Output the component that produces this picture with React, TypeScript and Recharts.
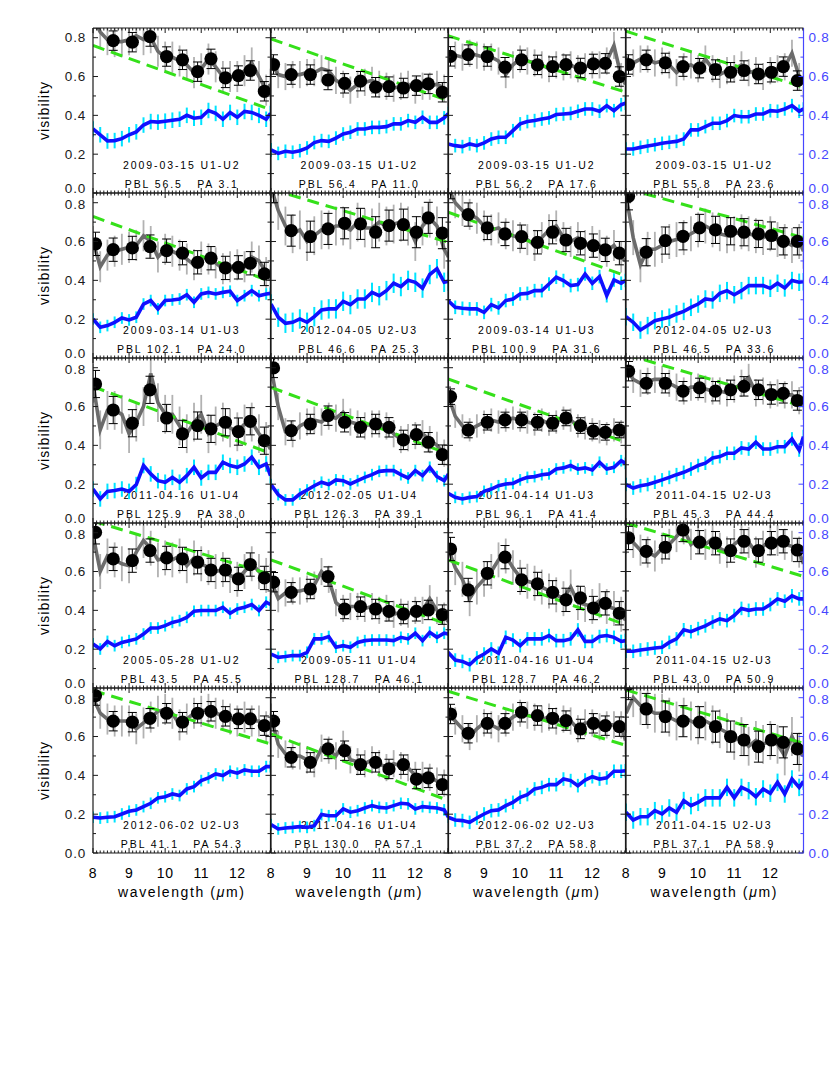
import React from 'react';
import { ComposedChart, Line, Scatter, XAxis, YAxis, ErrorBar } from 'recharts';

// ---------- data ----------
const WAVE_FINE = [8.0, 8.2, 8.4, 8.6, 8.8, 9.0, 9.2, 9.4, 9.6, 9.8, 10.0, 10.2, 10.4, 10.6, 10.8, 11.0, 11.2, 11.4, 11.6, 11.8, 12.0, 12.2, 12.4, 12.6, 12.8, 12.92];
const WAVE_DOT = [8.07, 8.56, 9.09, 9.58, 10.04, 10.48, 10.9, 11.27, 11.67, 12.03, 12.36, 12.75];
const X_DOMAIN = [8, 12.92];
const Y_DOMAIN = [0, 0.85];
const X_TICKS = [8, 8.1, 8.2, 8.3, 8.4, 8.5, 8.6, 8.7, 8.8, 8.9, 9, 9.1, 9.2, 9.3, 9.4, 9.5, 9.6, 9.7, 9.8, 9.9, 10, 10.1, 10.2, 10.3, 10.4, 10.5, 10.6, 10.7, 10.8, 10.9, 11, 11.1, 11.2, 11.3, 11.4, 11.5, 11.6, 11.7, 11.8, 11.9, 12, 12.1, 12.2, 12.3, 12.4, 12.5, 12.6, 12.7, 12.8, 12.9];
const X_LABELS = ['8', '9', '10', '11', '12'];
const Y_TICKS = [0, 0.1, 0.2, 0.3, 0.4, 0.5, 0.6, 0.7, 0.8];
const Y_LABELS = ['0.0', '0.2', '0.4', '0.6', '0.8'];

const DATES = [
  '2009-03-15 U1-U2', '2009-03-15 U1-U2', '2009-03-15 U1-U2', '2009-03-15 U1-U2',
  '2009-03-14 U1-U3', '2012-04-05 U2-U3', '2009-03-14 U1-U3', '2012-04-05 U2-U3',
  '2011-04-16 U1-U4', '2012-02-05 U1-U4', '2011-04-14 U1-U3', '2011-04-15 U2-U3',
  '2005-05-28 U1-U2', '2009-05-11 U1-U4', '2011-04-16 U1-U4', '2011-04-15 U2-U3',
  '2012-06-02 U2-U3', '2011-04-16 U1-U4', '2012-06-02 U2-U3', '2011-04-15 U2-U3',
];
const PBL = ['56.5', '56.4', '56.2', '55.8', '102.1', '46.6', '100.9', '46.5', '125.9', '126.3', '96.1', '45.3', '43.5', '128.7', '128.7', '43.0', '41.1', '130.0', '37.2', '37.1'];
const PA = ['3.1', '11.0', '17.6', '23.6', '24.0', '25.3', '31.6', '33.6', '38.0', '39.1', '41.4', '44.4', '45.5', '46.1', '46.2', '50.9', '54.3', '57.1', '58.8', '58.9'];

const DOT_V = [
  [0.9, 0.785, 0.777, 0.806, 0.703, 0.686, 0.625, 0.691, 0.593, 0.605, 0.631, 0.524],
  [0.662, 0.61, 0.61, 0.582, 0.565, 0.576, 0.545, 0.548, 0.541, 0.553, 0.562, 0.519],
  [0.704, 0.713, 0.703, 0.648, 0.686, 0.66, 0.651, 0.661, 0.644, 0.665, 0.668, 0.6],
  [0.662, 0.686, 0.67, 0.651, 0.643, 0.636, 0.622, 0.631, 0.613, 0.622, 0.651, 0.579],
  [0.588, 0.558, 0.567, 0.574, 0.553, 0.54, 0.493, 0.514, 0.464, 0.467, 0.488, 0.433],
  [0.88, 0.656, 0.625, 0.665, 0.694, 0.691, 0.648, 0.682, 0.687, 0.648, 0.722, 0.643],
  [0.88, 0.739, 0.67, 0.639, 0.625, 0.596, 0.648, 0.608, 0.591, 0.579, 0.557, 0.54],
  [0.833, 0.545, 0.605, 0.627, 0.67, 0.66, 0.653, 0.648, 0.639, 0.631, 0.601, 0.601],
  [0.716, 0.582, 0.514, 0.686, 0.541, 0.459, 0.502, 0.485, 0.519, 0.471, 0.524, 0.424],
  [0.799, 0.476, 0.51, 0.553, 0.519, 0.493, 0.51, 0.493, 0.428, 0.455, 0.416, 0.352],
  [0.651, 0.479, 0.519, 0.531, 0.531, 0.519, 0.514, 0.541, 0.502, 0.473, 0.467, 0.479],
  [0.782, 0.72, 0.72, 0.679, 0.696, 0.679, 0.686, 0.704, 0.686, 0.662, 0.668, 0.631],
  [0.802, 0.665, 0.656, 0.708, 0.67, 0.665, 0.648, 0.608, 0.608, 0.562, 0.636, 0.567],
  [0.545, 0.493, 0.51, 0.574, 0.407, 0.419, 0.407, 0.395, 0.381, 0.395, 0.402, 0.378],
  [0.716, 0.505, 0.591, 0.674, 0.557, 0.536, 0.493, 0.454, 0.464, 0.412, 0.436, 0.385],
  [0.773, 0.704, 0.725, 0.814, 0.751, 0.746, 0.708, 0.756, 0.708, 0.746, 0.756, 0.711],
  [0.811, 0.679, 0.674, 0.694, 0.72, 0.674, 0.72, 0.73, 0.704, 0.691, 0.691, 0.656],
  [0.679, 0.493, 0.467, 0.536, 0.527, 0.455, 0.467, 0.433, 0.455, 0.381, 0.387, 0.352],
  [0.716, 0.617, 0.668, 0.668, 0.725, 0.708, 0.694, 0.682, 0.639, 0.668, 0.656, 0.651],
  [0.87, 0.742, 0.703, 0.679, 0.674, 0.651, 0.6, 0.582, 0.548, 0.582, 0.57, 0.536],
];

const GRAY_V = [
  [0.9, 0.83, 0.79, 0.78, 0.78, 0.79, 0.81, 0.79, 0.8, 0.73, 0.7, 0.7, 0.68, 0.66, 0.62, 0.64, 0.69, 0.65, 0.6, 0.6, 0.6, 0.63, 0.67, 0.6, 0.53, 0.56],
  [0.67, 0.61, 0.6, 0.61, 0.61, 0.62, 0.62, 0.64, 0.63, 0.58, 0.56, 0.53, 0.56, 0.57, 0.58, 0.56, 0.55, 0.54, 0.55, 0.56, 0.53, 0.55, 0.55, 0.56, 0.54, 0.52],
  [0.72, 0.71, 0.7, 0.72, 0.71, 0.7, 0.7, 0.68, 0.61, 0.66, 0.69, 0.68, 0.67, 0.66, 0.64, 0.66, 0.65, 0.66, 0.64, 0.65, 0.66, 0.66, 0.68, 0.76, 0.6, 0.56],
  [0.66, 0.67, 0.69, 0.69, 0.67, 0.68, 0.66, 0.62, 0.65, 0.66, 0.64, 0.69, 0.64, 0.61, 0.63, 0.64, 0.66, 0.62, 0.63, 0.6, 0.63, 0.64, 0.65, 0.72, 0.6, 0.56],
  [0.6, 0.47, 0.53, 0.55, 0.56, 0.57, 0.58, 0.63, 0.6, 0.52, 0.56, 0.55, 0.53, 0.51, 0.48, 0.52, 0.51, 0.49, 0.46, 0.47, 0.48, 0.47, 0.52, 0.5, 0.44, 0.4],
  [0.88, 0.76, 0.68, 0.64, 0.66, 0.6, 0.63, 0.66, 0.66, 0.68, 0.68, 0.66, 0.7, 0.67, 0.67, 0.7, 0.68, 0.69, 0.7, 0.68, 0.6, 0.68, 0.72, 0.68, 0.56, 0.52],
  [0.88, 0.8, 0.76, 0.74, 0.72, 0.68, 0.66, 0.67, 0.64, 0.63, 0.62, 0.61, 0.58, 0.62, 0.66, 0.68, 0.62, 0.6, 0.62, 0.58, 0.6, 0.58, 0.55, 0.58, 0.52, 0.5],
  [0.84, 0.62, 0.48, 0.56, 0.56, 0.58, 0.6, 0.61, 0.62, 0.64, 0.66, 0.68, 0.66, 0.64, 0.63, 0.64, 0.65, 0.64, 0.63, 0.62, 0.64, 0.61, 0.6, 0.58, 0.6, 0.55],
  [0.72, 0.48, 0.58, 0.58, 0.56, 0.46, 0.52, 0.6, 0.77, 0.62, 0.56, 0.56, 0.5, 0.46, 0.52, 0.56, 0.46, 0.5, 0.52, 0.49, 0.47, 0.51, 0.52, 0.46, 0.42, 0.38],
  [0.8, 0.6, 0.47, 0.46, 0.5, 0.52, 0.53, 0.52, 0.55, 0.54, 0.57, 0.52, 0.51, 0.5, 0.51, 0.51, 0.5, 0.46, 0.43, 0.44, 0.45, 0.46, 0.43, 0.4, 0.36, 0.34],
  [0.66, 0.55, 0.5, 0.48, 0.5, 0.52, 0.53, 0.52, 0.53, 0.54, 0.53, 0.52, 0.51, 0.53, 0.51, 0.52, 0.54, 0.53, 0.5, 0.49, 0.48, 0.47, 0.46, 0.48, 0.47, 0.44],
  [0.8, 0.74, 0.72, 0.73, 0.74, 0.74, 0.72, 0.7, 0.68, 0.7, 0.7, 0.69, 0.68, 0.68, 0.67, 0.69, 0.72, 0.75, 0.67, 0.68, 0.66, 0.67, 0.66, 0.66, 0.63, 0.6],
  [0.79, 0.6, 0.68, 0.66, 0.64, 0.63, 0.7, 0.76, 0.72, 0.66, 0.67, 0.66, 0.68, 0.63, 0.67, 0.64, 0.62, 0.6, 0.61, 0.58, 0.56, 0.6, 0.64, 0.6, 0.58, 0.55],
  [0.55, 0.46, 0.49, 0.5, 0.5, 0.51, 0.53, 0.6, 0.56, 0.44, 0.41, 0.42, 0.42, 0.41, 0.42, 0.4, 0.41, 0.38, 0.39, 0.38, 0.4, 0.4, 0.46, 0.4, 0.37, 0.34],
  [0.72, 0.62, 0.56, 0.46, 0.52, 0.56, 0.6, 0.66, 0.68, 0.62, 0.57, 0.55, 0.54, 0.52, 0.5, 0.48, 0.46, 0.52, 0.44, 0.43, 0.42, 0.45, 0.42, 0.41, 0.38, 0.35],
  [0.77, 0.75, 0.71, 0.7, 0.68, 0.72, 0.74, 0.78, 0.82, 0.74, 0.77, 0.74, 0.77, 0.72, 0.7, 0.74, 0.77, 0.75, 0.7, 0.73, 0.76, 0.76, 0.74, 0.73, 0.7, 0.64],
  [0.8, 0.72, 0.69, 0.68, 0.68, 0.68, 0.64, 0.67, 0.7, 0.73, 0.74, 0.72, 0.66, 0.69, 0.72, 0.73, 0.74, 0.72, 0.71, 0.69, 0.68, 0.7, 0.68, 0.68, 0.65, 0.64],
  [0.7, 0.56, 0.51, 0.5, 0.5, 0.48, 0.46, 0.54, 0.53, 0.5, 0.56, 0.48, 0.47, 0.46, 0.48, 0.46, 0.44, 0.46, 0.45, 0.44, 0.4, 0.4, 0.39, 0.37, 0.36, 0.33],
  [0.72, 0.68, 0.64, 0.6, 0.64, 0.67, 0.66, 0.64, 0.67, 0.7, 0.72, 0.71, 0.7, 0.69, 0.7, 0.68, 0.69, 0.68, 0.64, 0.67, 0.67, 0.65, 0.66, 0.66, 0.66, 0.58],
  [0.72, 0.8, 0.76, 0.74, 0.72, 0.72, 0.7, 0.68, 0.7, 0.68, 0.66, 0.68, 0.66, 0.64, 0.62, 0.58, 0.6, 0.55, 0.58, 0.56, 0.58, 0.56, 0.5, 0.6, 0.52, 0.5],
];

const BLUE_V = [
  [0.33, 0.3, 0.268, 0.27, 0.28, 0.3, 0.315, 0.35, 0.368, 0.365, 0.37, 0.375, 0.38, 0.4, 0.385, 0.39, 0.425, 0.41, 0.38, 0.415, 0.39, 0.42, 0.415, 0.4, 0.38, 0.41],
  [0.222, 0.204, 0.215, 0.21, 0.218, 0.232, 0.26, 0.27, 0.266, 0.283, 0.304, 0.313, 0.33, 0.33, 0.338, 0.338, 0.342, 0.356, 0.356, 0.373, 0.364, 0.39, 0.364, 0.364, 0.387, 0.41],
  [0.253, 0.244, 0.239, 0.253, 0.244, 0.258, 0.278, 0.287, 0.287, 0.321, 0.356, 0.368, 0.373, 0.381, 0.387, 0.404, 0.407, 0.41, 0.421, 0.433, 0.433, 0.421, 0.45, 0.424, 0.455, 0.462],
  [0.227, 0.227, 0.235, 0.242, 0.249, 0.256, 0.261, 0.266, 0.278, 0.325, 0.325, 0.342, 0.359, 0.359, 0.373, 0.399, 0.393, 0.393, 0.407, 0.407, 0.424, 0.421, 0.433, 0.45, 0.421, 0.433],
  [0.201, 0.158, 0.167, 0.184, 0.206, 0.196, 0.21, 0.278, 0.296, 0.253, 0.296, 0.299, 0.304, 0.326, 0.287, 0.33, 0.338, 0.33, 0.338, 0.344, 0.296, 0.321, 0.347, 0.321, 0.33, 0.333],
  [0.278, 0.21, 0.179, 0.184, 0.201, 0.184, 0.213, 0.247, 0.253, 0.253, 0.292, 0.275, 0.304, 0.304, 0.338, 0.321, 0.347, 0.385, 0.368, 0.4, 0.39, 0.36, 0.43, 0.46, 0.39, 0.395],
  [0.296, 0.261, 0.256, 0.253, 0.253, 0.235, 0.275, 0.258, 0.296, 0.304, 0.33, 0.333, 0.347, 0.347, 0.381, 0.416, 0.399, 0.373, 0.378, 0.433, 0.385, 0.419, 0.321, 0.402, 0.385, 0.399],
  [0.213, 0.184, 0.144, 0.167, 0.192, 0.201, 0.21, 0.227, 0.24, 0.261, 0.278, 0.304, 0.299, 0.333, 0.347, 0.326, 0.347, 0.373, 0.373, 0.373, 0.359, 0.385, 0.361, 0.399, 0.39, 0.393],
  [0.175, 0.124, 0.163, 0.167, 0.175, 0.163, 0.198, 0.296, 0.253, 0.218, 0.21, 0.235, 0.21, 0.244, 0.287, 0.232, 0.261, 0.261, 0.313, 0.296, 0.287, 0.304, 0.339, 0.287, 0.304, 0.244],
  [0.198, 0.146, 0.119, 0.119, 0.149, 0.17, 0.192, 0.21, 0.198, 0.222, 0.218, 0.201, 0.218, 0.235, 0.249, 0.266, 0.27, 0.27, 0.249, 0.232, 0.27, 0.244, 0.287, 0.239, 0.218, 0.253],
  [0.153, 0.132, 0.124, 0.132, 0.136, 0.163, 0.175, 0.192, 0.201, 0.204, 0.222, 0.235, 0.239, 0.249, 0.253, 0.278, 0.284, 0.296, 0.278, 0.284, 0.273, 0.313, 0.278, 0.287, 0.321, 0.307],
  [0.198, 0.18, 0.192, 0.198, 0.21, 0.222, 0.235, 0.249, 0.261, 0.278, 0.296, 0.308, 0.335, 0.342, 0.359, 0.359, 0.387, 0.381, 0.416, 0.381, 0.381, 0.393, 0.393, 0.433, 0.376, 0.445],
  [0.227, 0.201, 0.24, 0.218, 0.235, 0.244, 0.253, 0.278, 0.309, 0.309, 0.321, 0.338, 0.347, 0.364, 0.395, 0.399, 0.399, 0.399, 0.416, 0.385, 0.407, 0.416, 0.43, 0.399, 0.442, 0.43],
  [0.175, 0.158, 0.162, 0.167, 0.167, 0.184, 0.253, 0.253, 0.265, 0.21, 0.218, 0.21, 0.235, 0.244, 0.247, 0.247, 0.247, 0.244, 0.261, 0.253, 0.282, 0.244, 0.287, 0.261, 0.282, 0.278],
  [0.184, 0.144, 0.137, 0.12, 0.155, 0.175, 0.201, 0.179, 0.261, 0.247, 0.218, 0.253, 0.253, 0.253, 0.27, 0.244, 0.244, 0.253, 0.299, 0.24, 0.24, 0.265, 0.27, 0.261, 0.24, 0.244],
  [0.189, 0.189, 0.196, 0.201, 0.206, 0.21, 0.235, 0.253, 0.3, 0.29, 0.306, 0.32, 0.34, 0.356, 0.347, 0.373, 0.41, 0.4, 0.407, 0.407, 0.43, 0.459, 0.447, 0.475, 0.459, 0.459],
  [0.184, 0.18, 0.184, 0.187, 0.201, 0.215, 0.222, 0.239, 0.256, 0.284, 0.29, 0.304, 0.296, 0.33, 0.342, 0.373, 0.387, 0.407, 0.399, 0.421, 0.411, 0.428, 0.421, 0.421, 0.445, 0.445],
  [0.146, 0.124, 0.129, 0.132, 0.136, 0.132, 0.141, 0.198, 0.192, 0.192, 0.227, 0.21, 0.218, 0.232, 0.244, 0.235, 0.232, 0.244, 0.256, 0.253, 0.227, 0.239, 0.235, 0.232, 0.222, 0.184],
  [0.184, 0.17, 0.167, 0.158, 0.18, 0.201, 0.218, 0.222, 0.244, 0.261, 0.287, 0.301, 0.33, 0.338, 0.352, 0.352, 0.381, 0.373, 0.347, 0.376, 0.393, 0.381, 0.387, 0.421, 0.421, 0.424],
  [0.21, 0.17, 0.187, 0.187, 0.218, 0.201, 0.232, 0.21, 0.27, 0.244, 0.261, 0.284, 0.284, 0.284, 0.338, 0.284, 0.338, 0.321, 0.29, 0.33, 0.308, 0.364, 0.304, 0.381, 0.338, 0.369],
];

// green dashed model line: value at 8.0 and at 12.92
const GREEN_ENDS = [
  [0.76, 0.43], [0.794, 0.476], [0.81, 0.52], [0.833, 0.545],
  [0.729, 0.395], [0.87, 0.596], [0.751, 0.424], [0.873, 0.62],
  [0.703, 0.359], [0.699, 0.356], [0.742, 0.416], [0.868, 0.6],
  [0.86, 0.585], [0.66, 0.326], [0.66, 0.326], [0.85, 0.575],
  [0.837, 0.562], [0.613, 0.27], [0.833, 0.555], [0.84, 0.565],
];

const BLACK_ERR = [0.05, 0.05, 0.05, 0.05, 0.06, 0.08, 0.06, 0.07, 0.07, 0.05, 0.04, 0.05, 0.06, 0.05, 0.06, 0.06, 0.05, 0.05, 0.05, 0.08];
const GRAY_ERR = [0.08, 0.07, 0.07, 0.07, 0.08, 0.1, 0.08, 0.09, 0.1, 0.07, 0.06, 0.07, 0.09, 0.07, 0.09, 0.08, 0.08, 0.07, 0.07, 0.1];
const CYAN_ERR = [0.04, 0.035, 0.035, 0.035, 0.03, 0.05, 0.035, 0.045, 0.04, 0.03, 0.03, 0.035, 0.03, 0.03, 0.035, 0.035, 0.03, 0.03, 0.035, 0.045];

// ---------- layout / style ----------
const PANEL_W = 177.5;
const PANEL_H = 165;
const LEFT0 = 93;
const TOP0 = 28;
const FONT = '"Liberation Sans", Arial, Helvetica, sans-serif';
const AXIS_COLOR = '#1a1a1a';
const RIGHT_BLUE = '#4646ff';
const MARGIN = { top: 0, right: 0, bottom: 0, left: 0 };

const isMajorX = (v: number) => Math.abs(v - Math.round(v)) < 1e-6;
const isMajorY = (v: number) => Math.abs(v * 5 - Math.round(v * 5)) < 1e-6;

const makeXTick = (dir: number, showLabel: boolean) => (props: any) => {
  const { x, y, payload } = props;
  const v = payload.value;
  const major = isMajorX(v);
  const len = major ? 5 : 2.5;
  const labelIdx = Math.round(v) - 8;
  return (
    <g>
      <line x1={x} y1={y} x2={x} y2={y + dir * len} stroke={AXIS_COLOR} strokeWidth={1} />
      {showLabel && major ? (
        <text x={x} y={y + 25} textAnchor="middle" fontSize={14} fontFamily={FONT} fill="#000" letterSpacing={0.5}>
          {X_LABELS[labelIdx]}
        </text>
      ) : null}
    </g>
  );
};

const makeYTick = (side: 'left' | 'right', showLabel: boolean, color: string, row: number) => (props: any) => {
  const { x, y, payload } = props;
  const v = payload.value;
  const major = isMajorY(v);
  const len = major ? 5 : 3;
  const dir = side === 'left' ? 1 : -1;
  const labelIdx = Math.round(v * 5);
  let dy = 0;
  if (v === 0 && row < 4) dy = -4.5;
  if (labelIdx === 4 && row > 0) dy = 1.5;
  return (
    <g>
      <line x1={x} y1={y} x2={x + dir * len} y2={y} stroke={color} strokeWidth={1} />
      {showLabel && major ? (
        <text
          x={side === 'left' ? x - 7 : x + 5}
          y={y + 4.5 + dy}
          textAnchor={side === 'left' ? 'end' : 'start'}
          fontSize={13.5}
          fontFamily={FONT}
          letterSpacing={0.8}
          fill={color}
        >
          {Y_LABELS[labelIdx]}
        </text>
      ) : null}
    </g>
  );
};

const Dot = (p: any) => <circle cx={p.cx} cy={p.cy} r={6.6} fill="#000" />;

function PanelData({ idx, left, top }: { idx: number; left: number; top: number }) {
  const grayData = WAVE_FINE.map((x, i) => ({ x, y: GRAY_V[idx][i], e: GRAY_ERR[idx] }));
  const blueData = WAVE_FINE.map((x, i) => ({ x, y: BLUE_V[idx][i], e: CYAN_ERR[idx] }));
  const dotData = WAVE_DOT.map((x, i) => ({ x, y: DOT_V[idx][i], e: BLACK_ERR[idx] }));
  const greenData = [
    { x: X_DOMAIN[0], y: GREEN_ENDS[idx][0] },
    { x: X_DOMAIN[1], y: GREEN_ENDS[idx][1] },
  ];
  return (
    <div style={{ position: 'absolute', left, top, width: PANEL_W, height: PANEL_H, overflow: 'hidden' }}>
      <ComposedChart width={PANEL_W} height={PANEL_H} margin={MARGIN}>
        <XAxis xAxisId="b" dataKey="x" type="number" domain={X_DOMAIN} allowDataOverflow hide />
        <XAxis xAxisId="t" dataKey="x" type="number" domain={X_DOMAIN} allowDataOverflow orientation="top" hide />
        <YAxis yAxisId="l" type="number" domain={Y_DOMAIN} allowDataOverflow hide />
        <YAxis yAxisId="r" type="number" domain={Y_DOMAIN} allowDataOverflow orientation="right" hide />
        <Line xAxisId="b" yAxisId="l" data={grayData} dataKey="y" stroke="none" dot={false} activeDot={false} isAnimationActive={false}>
          <ErrorBar dataKey="e" direction="y" width={0} stroke="#b2b2b2" strokeWidth={1.8} />
        </Line>
        <Line xAxisId="b" yAxisId="l" data={grayData} dataKey="y" stroke="#6c6c6c" strokeWidth={3.6} dot={false} activeDot={false} isAnimationActive={false} />
        <Line xAxisId="b" yAxisId="l" data={greenData} dataKey="y" stroke="#35e01a" strokeWidth={3} strokeDasharray="12 7" dot={false} activeDot={false} isAnimationActive={false} />
        <Line xAxisId="t" yAxisId="r" data={blueData} dataKey="y" stroke="none" dot={false} activeDot={false} isAnimationActive={false}>
          <ErrorBar dataKey="e" direction="y" width={0} stroke="#00e4ff" strokeWidth={2} />
        </Line>
        <Line xAxisId="t" yAxisId="r" data={blueData} dataKey="y" stroke="#1010ff" strokeWidth={3.6} dot={false} activeDot={false} isAnimationActive={false} />
        <Scatter xAxisId="b" yAxisId="l" data={dotData} dataKey="y" shape={Dot} isAnimationActive={false}>
          <ErrorBar dataKey="e" direction="y" width={4.5} stroke="#000" strokeWidth={1} />
        </Scatter>
      </ComposedChart>
    </div>
  );
}

function PanelAxes({ idx, left, top }: { idx: number; left: number; top: number }) {
  const row = Math.floor(idx / 4);
  const col = idx % 4;
  const rightColor = col === 3 ? RIGHT_BLUE : AXIS_COLOR;
  const anchorData = [
    { x: X_DOMAIN[0], y: Y_DOMAIN[0] },
    { x: X_DOMAIN[1], y: Y_DOMAIN[1] },
  ];
  return (
    <div style={{ position: 'absolute', left, top, width: PANEL_W, height: PANEL_H }}>
      <ComposedChart width={PANEL_W} height={PANEL_H} margin={MARGIN}>
        <XAxis
          xAxisId="b" dataKey="x" type="number" domain={X_DOMAIN} allowDataOverflow
          orientation="bottom" mirror ticks={X_TICKS} interval={0} tickSize={0} tickMargin={0}
          tickLine={false} axisLine={{ stroke: AXIS_COLOR, strokeWidth: 1.2 }} tick={makeXTick(-1, row === 4)}
        />
        <XAxis
          xAxisId="t" dataKey="x" type="number" domain={X_DOMAIN} allowDataOverflow
          orientation="top" mirror ticks={X_TICKS} interval={0} tickSize={0} tickMargin={0}
          tickLine={false} axisLine={{ stroke: AXIS_COLOR, strokeWidth: 1.2 }} tick={makeXTick(1, false)}
        />
        <YAxis
          yAxisId="l" type="number" domain={Y_DOMAIN} allowDataOverflow
          orientation="left" mirror ticks={Y_TICKS} interval={0} tickSize={0} tickMargin={0}
          tickLine={false} axisLine={{ stroke: AXIS_COLOR, strokeWidth: 1.2 }} tick={makeYTick('left', col === 0, AXIS_COLOR, row)}
        />
        <YAxis
          yAxisId="r" type="number" domain={Y_DOMAIN} allowDataOverflow
          orientation="right" mirror ticks={Y_TICKS} interval={0} tickSize={0} tickMargin={0}
          tickLine={false} axisLine={{ stroke: rightColor, strokeWidth: 1.2 }} tick={makeYTick('right', col === 3, rightColor, row)}
        />
        <Line xAxisId="b" yAxisId="l" data={anchorData} dataKey="y" stroke="none" dot={false} activeDot={false} isAnimationActive={false} />
        <Line xAxisId="t" yAxisId="r" data={anchorData} dataKey="y" stroke="none" dot={false} activeDot={false} isAnimationActive={false} />
      </ComposedChart>
    </div>
  );
}

function Annotations() {
  const rows = [0, 1, 2, 3, 4];
  const cols = [0, 1, 2, 3];
  return (
    <svg width={830} height={1080} style={{ position: 'absolute', left: 0, top: 0 }}>
      {rows.map((r) => {
        const cy = TOP0 + r * PANEL_H + PANEL_H / 2;
        return (
          <text
            key={'v' + r}
            x={0}
            y={0}
            transform={`translate(49, ${cy}) rotate(-90)`}
            textAnchor="middle"
            fontSize={14}
            fontFamily={FONT}
            letterSpacing={1.1}
            fill="#000"
          >
            visibility
          </text>
        );
      })}
      {cols.map((c) => (
        <text
          key={'w' + c}
          x={LEFT0 + c * PANEL_W + PANEL_W / 2}
          y={897}
          textAnchor="middle"
          fontSize={14}
          fontFamily={FONT}
          letterSpacing={1.6}
          fill="#000"
        >
          wavelength (<tspan fontStyle="italic">μ</tspan>m)
        </text>
      ))}
      {DATES.map((d, i) => {
        const r = Math.floor(i / 4);
        const c = i % 4;
        const cx = LEFT0 + c * PANEL_W + PANEL_W / 2;
        const t = TOP0 + r * PANEL_H;
        return (
          <g key={'p' + i}>
            <text x={cx} y={t + 141} textAnchor="middle" fontSize={10.5} fontFamily={FONT} letterSpacing={1.9} fill="#000">
              {d}
            </text>
            <text x={cx} y={t + 160} textAnchor="middle" fontSize={10.5} fontFamily={FONT} letterSpacing={1.9} fill="#000" style={{ whiteSpace: 'pre' }}>
              {`PBL ${PBL[i]}   PA ${PA[i]}`}
            </text>
          </g>
        );
      })}
    </svg>
  );
}

export default function App() {
  const panels = Array.from({ length: 20 }, (_, i) => i);
  const pos = (i: number) => ({
    left: LEFT0 + (i % 4) * PANEL_W,
    top: TOP0 + Math.floor(i / 4) * PANEL_H,
  });
  return (
    <div style={{ position: 'absolute', left: 0, top: 0, width: 830, height: 1080, background: '#fff', fontFamily: FONT }}>
      <style>{`.axes-layer .recharts-surface{overflow:visible}.axes-layer .recharts-wrapper{overflow:visible}`}</style>
      <Annotations />
      {panels.map((i) => (
        <PanelData key={'d' + i} idx={i} {...pos(i)} />
      ))}
      <div className="axes-layer">
        {panels.map((i) => (
          <PanelAxes key={'a' + i} idx={i} {...pos(i)} />
        ))}
      </div>
    </div>
  );
}
